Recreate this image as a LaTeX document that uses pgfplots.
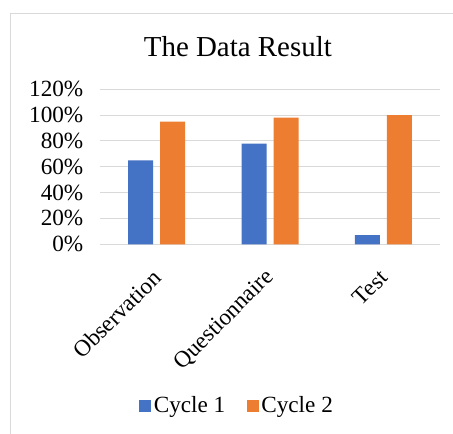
\documentclass[border=0pt]{standalone}
\usepackage{fontspec}
\setmainfont{Liberation Serif}
\usepackage{pgfplots}
\pgfplotsset{compat=1.18}
\definecolor{cblue}{HTML}{4472C4}
\definecolor{corange}{HTML}{ED7D31}
\definecolor{gridc}{HTML}{D9D9D9}
\begin{document}
\begin{tikzpicture}
\useasboundingbox (0pt,0pt) rectangle (339.75pt,325.5pt);
\draw[gridc, line width=0.75pt] (7.7pt,0pt) -- (7.7pt,315.5pt) -- (339.75pt,315.5pt);
\node[anchor=base, font=\fontsize{21.7pt}{24pt}\selectfont, inner sep=0pt] at (178.4pt,283pt) {The Data Result};
\begin{axis}[
  at={(75pt,142.3pt)}, anchor=south west,
  scale only axis, width=255pt, height=116.25pt,
  ybar=5.25pt, bar width=18.75pt,
  xmin=-0.5, xmax=2.5, ymin=0, ymax=120,
  xtick={0,1,2}, xticklabels={Observation,Questionnaire,Test},
  ytick={0,20,40,60,80,100,120},
  yticklabel={\pgfmathprintnumber{\tick}\%},
  /pgf/number format/assume math mode=true,
  axis line style={draw=none},
  major tick length=0pt,
  ymajorgrids, major grid style={gridc, line width=0.75pt},
  tick label style={font=\fontsize{17.4pt}{20pt}\selectfont},
  yticklabel style={anchor=east, xshift=-9pt},
  xticklabel style={rotate=45, anchor=east, xshift=-12pt, yshift=-16pt},
  legend style={at={(0.404,-1.043)}, anchor=center, draw=none, legend columns=2,
    font=\fontsize{17.4pt}{20pt}\selectfont,
    /tikz/every even column/.append style={column sep=14pt}},
  legend image code/.code={\fill[#1] (0pt,-4.5pt) rectangle (9pt,4.5pt);},
]
\addplot[fill=cblue, draw=none] coordinates {(0,65) (1,78) (2,7)};
\addplot[fill=corange, draw=none] coordinates {(0,95) (1,98) (2,100)};
\legend{Cycle 1, Cycle 2}
\end{axis}
\end{tikzpicture}
\end{document}
